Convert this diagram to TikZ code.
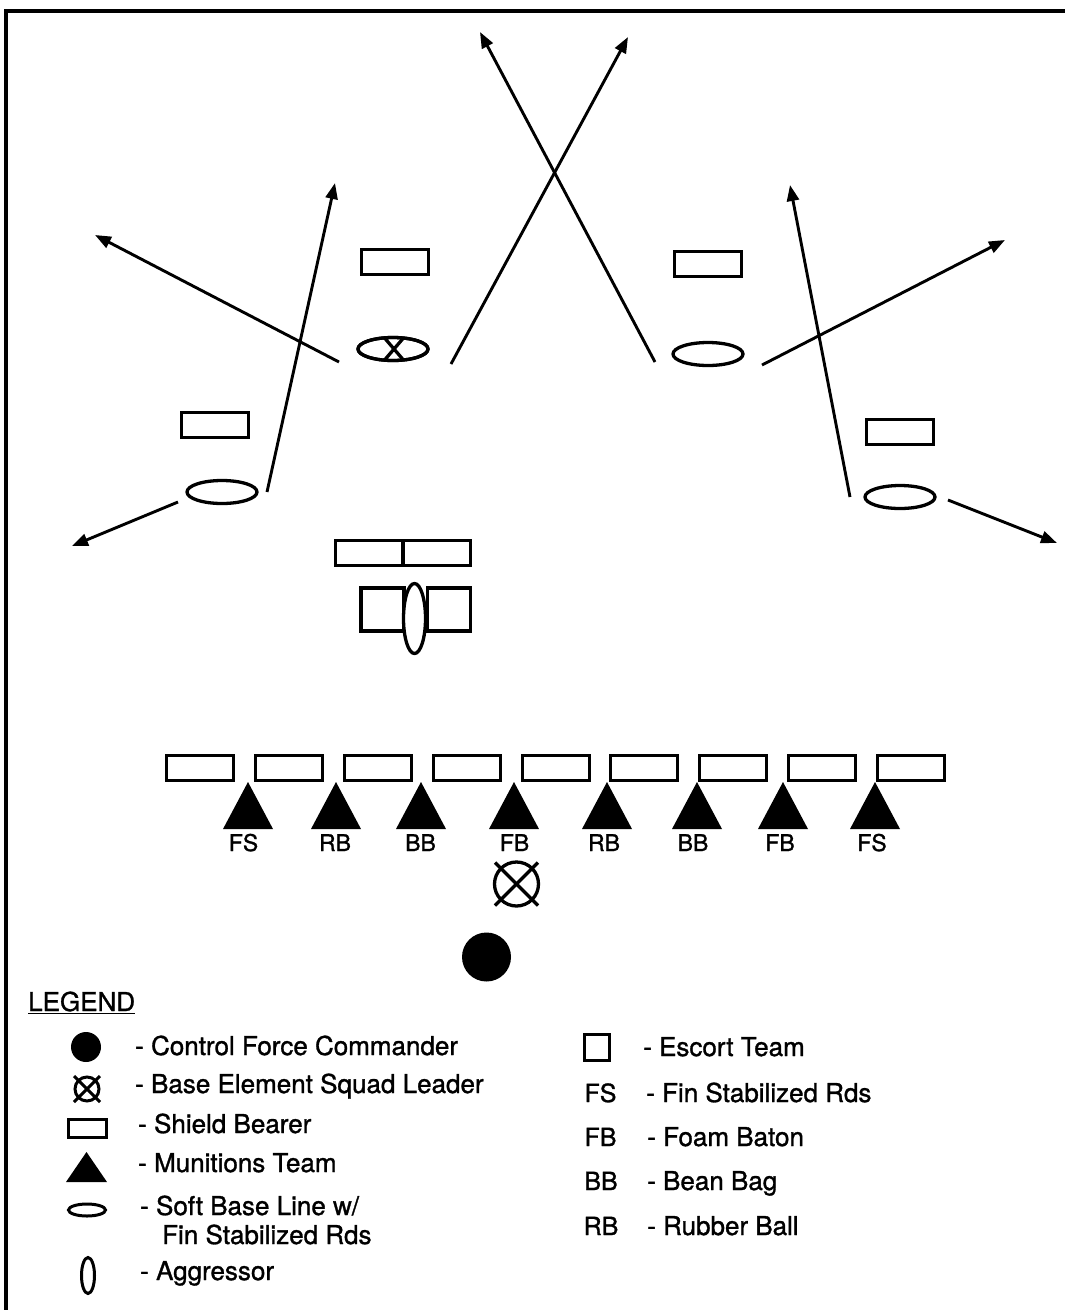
\documentclass[tikz,border=0pt]{standalone}
\usepackage{fontspec}
\setmainfont[FakeBold=1.2,AutoFakeBold=1.2]{TeX Gyre Heros}
\usetikzlibrary{arrows.meta,shapes.geometric}
\begin{document}
\begin{tikzpicture}[x=1pt,y=-1pt,
 shield/.style={draw, rectangle, line width=3.3pt, minimum width=67pt, minimum height=25pt, inner sep=0pt},
 escort/.style={draw, rectangle, line width=3.3pt, minimum width=43pt, minimum height=43pt, inner sep=0pt},
 softbase/.style={draw, ellipse, line width=3.3pt, minimum width=70pt, minimum height=23pt, inner sep=0pt, fill=white},
 aggr/.style={draw, ellipse, line width=3.3pt, minimum width=22pt, minimum height=70pt, inner sep=0pt, fill=white},
 mv/.style={line width=2.9pt, -{Triangle[length=16pt,width=12pt]}},
 lab/.style={font=\fontsize{23pt}{27pt}\selectfont\bfseries, inner sep=0pt, anchor=base},
 leg/.style={font=\fontsize{26pt}{30pt}\selectfont\bfseries, inner sep=0pt, anchor=base west},
 legc/.style={font=\fontsize{25pt}{30pt}\selectfont\bfseries, inner sep=0pt, anchor=base},
 munit/.pic={\fill (-25,47) -- (0,0) -- (25,47) -- cycle;},
 legtri/.pic={\fill (-20.5,30) -- (0,0) -- (20.5,30) -- cycle;},
]
\useasboundingbox (0,0) rectangle (1065,1310);
% frame
\draw[line width=3.2pt] (6,1310) -- (6,11) -- (1065,11);

% arrows
\coordinate (a1s) at (655,362); \coordinate (a1e) at (480,32);
\coordinate (a2s) at (451,364); \coordinate (a2e) at (628,37);
\coordinate (a3s) at (339,362); \coordinate (a3e) at (95,235);
\coordinate (a4s) at (267,492); \coordinate (a4e) at (335,183);
\coordinate (a5s) at (178,502); \coordinate (a5e) at (72,546);
\coordinate (a6s) at (762,365); \coordinate (a6e) at (1005,240);
\coordinate (a7s) at (850,497); \coordinate (a7e) at (790,185);
\coordinate (a8s) at (948,500); \coordinate (a8e) at (1057,543);
\foreach \i in {1,...,8} {\draw[mv] (a\i s) -- (a\i e);}

% upper shield bearers
\node[shield] (s1) at (395,262) {};
\node[shield] (s2) at (708,264) {};
\node[shield] (s3) at (215,425) {};
\node[shield] (s4) at (900,432) {};

% soft base lines
\node[softbase] (e1) at (393,349) {};
\begin{scope}
 \clip (393,349) ellipse [x radius=35pt, y radius=11.5pt];
 \draw[line width=3.3pt] (382,335) -- (406,363) (406,335) -- (382,363);
\end{scope}
\draw[line width=3.3pt] (393,349) ellipse [x radius=35pt, y radius=11.5pt];
\node[softbase] (e2) at (708,354) {};
\node[softbase] (e3) at (222,492) {};
\node[softbase] (e4) at (900,497) {};

% middle group
\node[shield] (m1) at (369,553) {};
\node[shield] (m2) at (437,553) {};
\node[escort] (q1) at (382.5,609.5) {};
\node[escort] (q2) at (449,609.5) {};
\node[aggr] (ag) at (414.5,618.5) {};

% base line of shield bearers
\foreach \x [count=\i] in {200,289,378,467,556,644,733,822,911}
  \node[shield] (b\i) at (\x,768) {};
% munitions teams
\foreach \x [count=\i] in {248,336,421,514,607,697,783,875}
  \pic (t\i) at (\x,782) {munit};
\foreach \x/\t [count=\i] in {243.5/FS,335/RB,420.5/BB,514.5/FB,604/RB,693/BB,780/FB,872/FS}
  \node[lab] (l\i) at (\x,851) {\t};

% base element squad leader
\node[draw, circle, line width=3.3pt, minimum size=44pt, inner sep=0pt] (bsl) at (516.5,884) {};
\draw[line width=3.3pt] (bsl.center) +(-21.5,-21.5) -- +(21.5,21.5);
\draw[line width=3.3pt] (bsl.center) +(21.5,-21.5) -- +(-21.5,21.5);
% control force commander
\node[fill, circle, minimum size=49pt, inner sep=0pt] (cfc) at (486.5,957) {};

% legend
\node[leg] (leg) at (28,1011) {\underline{LEGEND}};
\node[fill, circle, minimum size=30pt, inner sep=0pt] (k1) at (86,1047) {};
\node[leg] (k1t) at (135,1055) {- Control Force Commander};
\node[draw, circle, line width=3pt, minimum size=24pt, inner sep=0pt] (k2) at (87,1089) {};
\draw[line width=3pt] (k2.center) +(-13,-13) -- +(13,13);
\draw[line width=3pt] (k2.center) +(13,-13) -- +(-13,13);
\node[leg] (k2t) at (135,1093) {- Base Element Squad Leader};
\node[draw, rectangle, line width=3pt, minimum width=38pt, minimum height=18pt, inner sep=0pt] (k3) at (87,1128) {};
\node[leg] (k3t) at (138,1133) {- Shield Bearer};
\pic (k4) at (86.5,1152) {legtri};
\node[leg] (k4t) at (138,1172) {- Munitions Team};
\node[draw, ellipse, line width=3pt, minimum width=37pt, minimum height=12pt, inner sep=0pt] (k5) at (87,1210) {};
\node[leg] (k5t) at (140,1215) {- Soft Base Line w/};
\node[leg] (k5u) at (162,1244) {Fin Stabilized Rds};
\node[draw, ellipse, line width=3pt, minimum width=13pt, minimum height=36pt, inner sep=0pt] (k6) at (88,1275.5) {};
\node[leg] (k6t) at (140,1280) {- Aggressor};

\node[draw, rectangle, line width=3pt, minimum width=25pt, minimum height=26pt, inner sep=0pt] (r1) at (597,1047.5) {};
\node[leg] (r1t) at (643,1056) {- Escort Team};
\node[legc] (r2) at (600.5,1102) {FS};
\node[leg] (r2t) at (646,1102) {- Fin Stabilized Rds};
\node[legc] (r3) at (600.5,1146) {FB};
\node[leg] (r3t) at (647,1146) {- Foam Baton};
\node[legc] (r4) at (601,1190) {BB};
\node[leg] (r4t) at (647,1190) {- Bean Bag};
\node[legc] (r5) at (601,1235) {RB};
\node[leg] (r5t) at (647,1235) {- Rubber Ball};
\end{tikzpicture}
\end{document}
